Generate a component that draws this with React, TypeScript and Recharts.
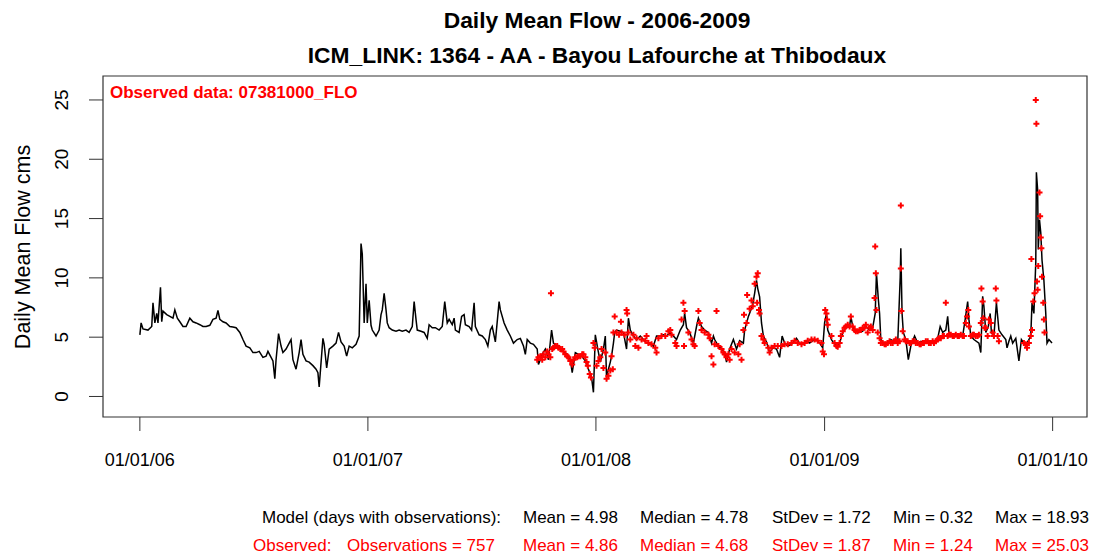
import React from 'react';
import { ComposedChart, Line, Scatter, XAxis, YAxis, ReferenceArea } from 'recharts';

// days since 01/01/2006
const xTickDays = [0, 365, 730, 1096, 1461];
const xTickLabels = ['01/01/06', '01/01/07', '01/01/08', '01/01/09', '01/01/10'];
const yTicks = [0, 5, 10, 15, 20, 25];

const modelDays = [
  0, 2, 5, 13, 19, 21, 24, 27, 29, 33,
  35, 37, 43, 48, 53, 56, 60, 64, 69, 74,
  80, 85, 90, 96, 101, 106, 112, 117, 122, 125,
  128, 133, 138, 144, 149, 154, 160, 165, 170, 176,
  181, 186, 191, 197, 202, 205, 209, 213, 216, 218,
  222, 226, 229, 234, 239, 242, 245, 250, 255, 258,
  261, 266, 271, 277, 282, 285, 287, 290, 293, 295,
  299, 303, 309, 314, 318, 322, 327, 331, 335, 340,
  346, 351, 354, 356, 359, 362, 364, 367, 370, 372,
  378, 383, 386, 388, 391, 394, 396, 399, 404, 410,
  415, 420, 426, 431, 436, 439, 442, 444, 450, 455,
  460, 463, 468, 473, 479, 484, 488, 492, 495, 500,
  503, 505, 511, 515, 519, 521, 527, 531, 535, 537,
  543, 548, 553, 557, 561, 564, 569, 575, 577, 583,
  588, 593, 598, 604, 609, 614, 617, 620, 625, 630,
  636, 638, 644, 649, 654, 659, 662, 668, 673, 678,
  684, 689, 692, 697, 702, 707, 713, 718, 723, 726,
  729, 733, 737, 742, 745, 747, 750, 753, 755, 758,
  760, 763, 769, 774, 779, 782, 785, 790, 795, 801,
  806, 811, 817, 822, 827, 833, 838, 843, 849, 854,
  859, 865, 870, 872, 875, 880, 886, 891, 894, 899,
  904, 910, 915, 918, 920, 926, 931, 936, 939, 944,
  950, 955, 960, 966, 968, 974, 978, 981, 984, 987,
  989, 992, 995, 998, 1003, 1008, 1013, 1019, 1024, 1028,
  1032, 1037, 1043, 1048, 1051, 1056, 1061, 1067, 1072, 1077,
  1083, 1088, 1093, 1096, 1099, 1101, 1107, 1112, 1117, 1120,
  1125, 1130, 1136, 1138, 1141, 1146, 1152, 1157, 1162, 1168,
  1173, 1177, 1179, 1182, 1184, 1186, 1192, 1197, 1202, 1208,
  1213, 1217, 1218, 1220, 1222, 1226, 1230, 1234, 1240, 1245,
  1250, 1255, 1261, 1266, 1271, 1277, 1281, 1285, 1290, 1293,
  1295, 1301, 1306, 1311, 1317, 1321, 1325, 1327, 1330, 1335,
  1343, 1346, 1349, 1351, 1354, 1358, 1361, 1363, 1367, 1371,
  1375, 1380, 1386, 1388, 1391, 1394, 1397, 1402, 1407, 1411,
  1415, 1420, 1426, 1428, 1431, 1434, 1435, 1437, 1438, 1440,
  1442, 1444, 1447, 1450, 1452, 1455, 1460,
];

const modelFlow = [
  5.2, 6.2, 5.7, 5.6, 5.9, 7.9, 6.2, 7.0, 6.2, 9.2,
  6.3, 7.2, 6.9, 6.75, 6.6, 7.3, 6.6, 6.3, 5.9, 5.9,
  6.6, 6.3, 6.2, 6.05, 5.9, 5.9, 6.0, 6.5, 6.6, 7.25,
  6.5, 6.3, 6.2, 5.9, 5.85, 5.8, 5.4, 4.8, 4.25, 4.1,
  3.7, 3.7, 3.8, 3.3, 3.4, 3.8, 3.4, 3.0, 1.5, 3.1,
  5.3, 4.25, 3.7, 4.0, 4.5, 4.8, 3.1, 2.3, 3.7, 4.8,
  3.55, 3.0, 2.9, 2.6, 2.3, 2.0, 0.8, 2.85, 4.9, 4.4,
  2.4, 4.0, 4.25, 4.5, 5.4, 4.6, 4.25, 3.4, 4.25, 4.1,
  4.4, 5.1, 12.9, 12.0, 6.2, 9.5, 6.2, 8.1, 6.0, 5.6,
  5.1, 5.6, 6.9, 7.3, 8.7, 7.3, 6.2, 5.8, 5.6, 5.5,
  5.6, 5.5, 5.6, 5.4, 5.9, 8.0, 6.5, 5.6, 5.5, 5.4,
  4.9, 6.05, 5.8, 5.8, 5.6, 5.9, 8.0, 6.2, 6.5, 6.05,
  6.6, 5.6, 5.4, 6.75, 6.9, 6.05, 5.9, 5.6, 7.9, 5.9,
  5.2, 5.1, 4.8, 4.25, 5.6, 5.9, 4.6, 8.0, 7.3, 6.2,
  5.6, 5.1, 4.5, 4.8, 4.9, 4.25, 3.55, 4.8, 4.5, 4.4,
  4.0, 2.7, 3.55, 4.0, 3.1, 5.6, 4.5, 4.25, 4.0, 3.8,
  3.55, 3.1, 2.0, 3.7, 3.55, 3.4, 3.0, 2.3, 1.6, 0.35,
  5.2, 4.0, 2.9, 4.0, 5.1, 1.6, 2.3, 2.9, 3.4, 4.5,
  5.4, 5.6, 5.5, 5.4, 4.0, 6.6, 5.6, 5.1, 4.8, 5.1,
  4.8, 4.5, 4.4, 4.25, 5.1, 5.1, 5.2, 5.1, 5.4, 5.1,
  4.8, 5.6, 6.05, 7.0, 5.8, 5.4, 4.5, 5.9, 6.6, 5.9,
  5.6, 5.4, 4.5, 5.1, 4.8, 4.25, 4.0, 3.7, 2.9, 4.0,
  4.8, 4.0, 4.7, 4.5, 5.6, 6.75, 7.3, 7.8, 8.7, 9.8,
  9.1, 8.4, 6.2, 5.1, 4.6, 3.7, 4.1, 4.0, 3.3, 5.1,
  4.5, 4.25, 4.4, 4.7, 4.9, 4.5, 4.4, 4.7, 4.5, 4.7,
  4.8, 4.5, 4.1, 6.2, 7.0, 5.6, 4.8, 4.4, 4.25, 4.5,
  5.4, 5.8, 5.9, 6.75, 5.9, 5.5, 5.4, 5.5, 5.9, 5.6,
  5.8, 7.0, 10.4, 8.2, 7.0, 4.8, 4.4, 4.5, 4.8, 4.65,
  4.5, 10.0, 12.5, 7.0, 5.4, 4.8, 3.1, 4.25, 5.1, 4.5,
  4.65, 4.5, 4.65, 4.5, 4.65, 4.9, 5.9, 5.4, 5.6, 6.75,
  5.4, 5.1, 5.1, 5.2, 5.1, 6.5, 8.0, 6.5, 5.1, 4.8,
  4.5, 3.7, 8.45, 7.6, 5.4, 5.9, 7.0, 5.4, 5.1, 7.9,
  5.6, 5.2, 4.8, 4.1, 4.65, 5.1, 4.5, 4.9, 3.0, 4.8,
  4.5, 4.5, 5.1, 7.9, 7.0, 11.3, 18.9, 17.4, 12.4, 14.9,
  13.8, 11.5, 9.8, 7.0, 4.5, 4.8, 4.5,
];

const obsDays = [
  636, 638, 641, 644, 646, 649, 652, 654, 657, 658,
  660, 662, 665, 668, 670, 673, 676, 678, 681, 684,
  686, 689, 692, 694, 697, 700, 702, 705, 708, 710,
  713, 715, 717, 720, 722, 726, 728, 731, 734, 737,
  739, 742, 745, 747, 750, 753, 755, 757, 758, 760,
  763, 767, 770, 771, 776, 779, 780, 782, 785, 790,
  793, 795, 798, 803, 809, 811, 814, 819, 825, 827,
  830, 835, 841, 846, 849, 851, 857, 859, 867, 870,
  871, 872, 878, 883, 886, 888, 894, 896, 899, 904,
  910, 912, 915, 918, 920, 923, 926, 931, 934, 936,
  939, 942, 944, 947, 952, 958, 960, 963, 966, 967,
  971, 972, 976, 979, 981, 984, 987, 988, 989, 991,
  992, 995, 998, 1000, 1006, 1008, 1011, 1016, 1021, 1027,
  1032, 1037, 1043, 1048, 1053, 1059, 1064, 1069, 1075, 1080,
  1085, 1091, 1093, 1095, 1097, 1099, 1100, 1101, 1107, 1112,
  1115, 1117, 1120, 1122, 1125, 1128, 1130, 1133, 1136, 1138,
  1141, 1144, 1146, 1149, 1152, 1154, 1157, 1160, 1162, 1165,
  1168, 1170, 1173, 1176, 1177, 1178, 1179, 1181, 1184, 1186,
  1189, 1192, 1194, 1197, 1200, 1202, 1205, 1208, 1210, 1213,
  1216, 1218, 1218, 1219, 1221, 1224, 1226, 1229, 1232, 1234,
  1237, 1240, 1242, 1245, 1248, 1250, 1253, 1255, 1258, 1261,
  1263, 1266, 1269, 1271, 1274, 1277, 1279, 1282, 1285, 1287,
  1290, 1293, 1295, 1298, 1301, 1303, 1306, 1309, 1311, 1314,
  1317, 1319, 1322, 1324, 1326, 1327, 1330, 1333, 1335, 1338,
  1341, 1343, 1346, 1347, 1349, 1350, 1352, 1354, 1357, 1359,
  1362, 1365, 1367, 1370, 1371, 1373, 1375, 1415, 1418, 1420,
  1423, 1426, 1427, 1428, 1430, 1432, 1434, 1435, 1436, 1437,
  1438, 1440, 1441, 1442, 1443, 1444, 1446, 1447, 1448,
];

const obsFlow = [
  3.1, 3.3, 3.4, 3.1, 3.55, 3.3, 3.8, 3.55, 3.3, 8.7,
  4.0, 4.1, 4.25, 4.25, 4.1, 4.0, 4.0, 3.8, 3.55, 3.4,
  3.3, 3.0, 2.7, 3.1, 3.3, 3.3, 3.4, 3.4, 3.55, 3.55,
  3.3, 2.9, 2.6, 1.9, 1.6, 4.5, 4.1, 2.6, 3.0, 3.3,
  4.0, 2.4, 3.7, 1.5, 1.75, 2.2, 3.4, 2.3, 5.4, 6.75,
  5.4, 5.2, 6.3, 5.4, 5.2, 7.3, 7.0, 5.4, 4.8, 5.2,
  4.25, 4.9, 4.1, 4.8, 4.7, 5.1, 4.5, 4.4, 4.1, 3.7,
  4.9, 5.1, 5.1, 5.5, 5.6, 5.2, 4.5, 4.25, 6.5, 7.9,
  4.25, 7.2, 5.4, 4.8, 4.4, 4.25, 7.2, 6.2, 5.6, 5.4,
  5.2, 4.9, 3.4, 2.7, 4.4, 7.2, 4.25, 4.0, 3.7, 3.55,
  3.3, 3.55, 3.1, 4.0, 3.7, 3.55, 4.4, 3.1, 5.6, 6.9,
  6.2, 8.55, 7.4, 8.1, 7.6, 9.5, 10.1, 7.9, 10.4, 7.3,
  7.0, 5.1, 4.8, 4.5, 4.1, 3.7, 4.1, 4.25, 4.25, 4.25,
  4.4, 4.4, 4.5, 4.7, 4.5, 4.4, 4.5, 4.7, 4.8, 4.8,
  4.7, 4.5, 3.8, 3.55, 7.3, 7.0, 6.5, 6.05, 5.1, 4.5,
  4.25, 4.2, 4.5, 5.1, 5.5, 5.8, 5.9, 6.05, 5.9, 6.75,
  5.9, 5.6, 5.5, 5.5, 5.6, 5.6, 5.8, 5.8, 6.05, 5.4,
  5.8, 5.9, 5.6, 8.3, 12.65, 10.4, 7.3, 5.4, 4.9, 4.5,
  4.5, 4.4, 4.4, 4.5, 4.65, 4.5, 4.5, 4.65, 4.8, 4.5,
  4.65, 10.8, 16.1, 7.2, 5.5, 4.8, 4.65, 4.65, 4.5, 4.5,
  4.65, 4.65, 4.5, 4.5, 4.4, 4.4, 4.5, 4.5, 4.65, 4.65,
  4.5, 4.5, 4.65, 4.5, 4.65, 4.8, 4.9, 4.9, 5.1, 5.1,
  7.9, 5.1, 5.2, 5.2, 5.1, 5.1, 5.2, 5.1, 5.1, 5.2,
  5.1, 5.1, 6.2, 6.75, 7.3, 5.9, 5.1, 5.2, 5.2, 5.1,
  5.1, 5.2, 6.2, 9.1, 8.0, 6.6, 5.8, 5.8, 5.1, 6.5,
  6.2, 5.4, 5.1, 9.1, 8.1, 5.1, 4.65, 4.5, 4.4, 4.1,
  4.5, 5.1, 11.6, 5.6, 8.0, 8.7, 25.0, 23.0, 9.7, 9.0,
  11.0, 17.2, 15.2, 13.4, 12.5, 10.1, 7.9, 6.5, 5.4,
];

const modelStats = ['Mean = 4.98', 'Median = 4.78', 'StDev = 1.72', 'Min = 0.32', 'Max = 18.93'];
const obsStats = ['Mean = 4.86', 'Median = 4.68', 'StDev = 1.87', 'Min = 1.24', 'Max = 25.03'];
const statCols = [523, 640, 772, 893, 995];

const X_DOMAIN: [number, number] = [-59, 1516];
const Y_DOMAIN: [number, number] = [-1.73, 27.02];
const FONT = '"Liberation Sans", Arial, sans-serif';
const RED = '#ff0000';

const model = modelDays.map((d, i) => ({ day: d, flow: modelFlow[i] }));
const obs = obsDays.map((d, i) => ({ day: d, obs: obsFlow[i] }));

function Txt({ x, y, size, bold, color, center, children }: any) {
  return (
    <div
      style={{
        position: 'absolute',
        left: x,
        top: y - size / 2,
        fontSize: size,
        lineHeight: `${size}px`,
        fontWeight: bold ? 700 : 400,
        color: color || '#000',
        whiteSpace: 'nowrap',
        transform: center ? 'translateX(-50%)' : undefined,
      }}
    >
      {children}
    </div>
  );
}

const XTick = (p: any) => {
  const i = xTickDays.indexOf(p.payload.value);
  return (
    <text x={p.x} y={p.y + 27} textAnchor="middle" dominantBaseline="central" fontSize={18} fontFamily={FONT} fill="#000">
      {xTickLabels[i]}
    </text>
  );
};

const YTick = (p: any) => {
  const cx = p.x - 25;
  return (
    <text
      x={cx}
      y={p.y}
      transform={`rotate(-90, ${cx}, ${p.y})`}
      textAnchor="middle"
      dominantBaseline="central"
      fontSize={19}
      fontFamily={FONT}
      fill="#000"
    >
      {p.payload.value}
    </text>
  );
};

const Plus = (p: any) => {
  const { cx, cy } = p;
  if (cx == null || cy == null) return <g />;
  return <path d={`M${cx - 3},${cy}H${cx + 3}M${cx},${cy - 3}V${cy + 3}`} stroke={RED} strokeWidth={2} />;
};

export default function App() {
  return (
    <div style={{ position: 'absolute', left: 0, top: 0, width: 1093, height: 557, background: '#fff', fontFamily: FONT }}>
      <ComposedChart width={1093} height={557} margin={{ top: 76, right: 6, bottom: 80, left: 8 }}>
        <XAxis
          type="number"
          dataKey="day"
          domain={X_DOMAIN}
          ticks={xTickDays}
          interval={0}
          allowDataOverflow
          axisLine={false}
          tickSize={14}
          tickLine={{ stroke: '#333' }}
          tick={XTick}
          height={60}
        />
        <YAxis
          type="number"
          domain={Y_DOMAIN}
          ticks={yTicks}
          interval={0}
          allowDataOverflow
          axisLine={false}
          tickSize={14}
          tickLine={{ stroke: '#333' }}
          tick={YTick}
          width={95}
        />
        <ReferenceArea
          x1={X_DOMAIN[0]}
          x2={X_DOMAIN[1]}
          y1={Y_DOMAIN[0]}
          y2={Y_DOMAIN[1]}
          fill="none"
          fillOpacity={0}
          stroke="#333"
          strokeWidth={1.2}
          ifOverflow="visible"
        />
        <Line
          data={model}
          dataKey="flow"
          type="linear"
          stroke="#000"
          strokeWidth={1.5}
          dot={false}
          activeDot={false}
          isAnimationActive={false}
        />
        <Scatter data={obs} dataKey="obs" shape={Plus} isAnimationActive={false} />
      </ComposedChart>

      <Txt x={597} y={20} size={22.8} bold center>Daily Mean Flow - 2006-2009</Txt>
      <Txt x={597} y={55} size={22.8} bold center>ICM_LINK: 1364 - AA - Bayou Lafourche at Thibodaux</Txt>
      <Txt x={110} y={92} size={17} bold color={RED}>Observed data: 07381000_FLO</Txt>

      <div
        style={{
          position: 'absolute',
          left: 23,
          top: 247,
          transform: 'translate(-50%, -50%) rotate(-90deg)',
          fontSize: 21.5,
          lineHeight: '22px',
          whiteSpace: 'nowrap',
        }}
      >
        Daily Mean Flow cms
      </div>

      <Txt x={262} y={517} size={17}>Model (days with observations):</Txt>
      {modelStats.map((s, i) => (
        <Txt key={s} x={statCols[i]} y={517} size={17}>{s}</Txt>
      ))}
      <Txt x={253} y={545} size={17} color={RED}>Observed:</Txt>
      <Txt x={347} y={545} size={17} color={RED}>Observations = 757</Txt>
      {obsStats.map((s, i) => (
        <Txt key={s} x={statCols[i]} y={545} size={17} color={RED}>{s}</Txt>
      ))}
    </div>
  );
}
